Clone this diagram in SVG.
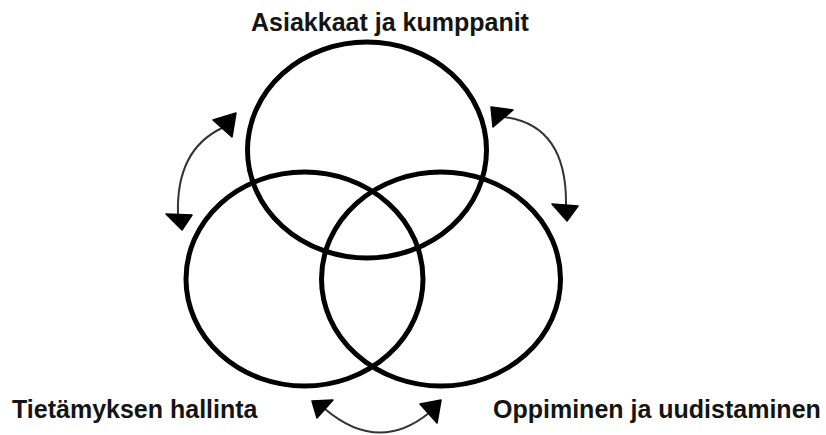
<svg xmlns="http://www.w3.org/2000/svg" width="826" height="435" viewBox="0 0 826 435">
<style>
.c{fill:none;stroke:#000;stroke-width:5}
.l{fill:none;stroke:#333;stroke-width:2}
.h{fill:#000;stroke:#000;stroke-width:1.5;stroke-linejoin:round}
.t{font-family:"Liberation Sans",Arial,sans-serif;font-weight:bold;font-size:25px;fill:#141414}
</style>
<rect width="826" height="435" fill="#fff"/>
<g id="node-asiakkaat">
<ellipse class="c" cx="367" cy="150" rx="119.5" ry="108"/>
<text class="t" x="390" y="31" text-anchor="middle">Asiakkaat ja kumppanit</text>
</g>
<g id="node-tietamys">
<ellipse class="c" cx="304.5" cy="279" rx="118.5" ry="107"/>
<text class="t" x="12" y="418">Tietämyksen hallinta</text>
</g>
<g id="node-oppiminen">
<ellipse class="c" cx="441" cy="279" rx="119.5" ry="107"/>
<text class="t" x="493" y="418">Oppiminen ja uudistaminen</text>
</g>
<g id="connectors">
<path class="l" d="M222,128 Q176,150 178,214"/>
<polygon class="h" points="213,120 236,113 232,137"/>
<polygon class="h" points="166,214 192,215 182,230"/>
<path class="l" d="M504,117 Q567,125 566,205"/>
<polygon class="h" points="491,107 513,110 493,127"/>
<polygon class="h" points="552,204 578,206 567,221"/>
<path class="l" d="M325,409 Q378,454 429,413"/>
<polygon class="h" points="312,401 333,400 317,418"/>
<polygon class="h" points="420,404 441,400 437,423"/>
</g>
</svg>
